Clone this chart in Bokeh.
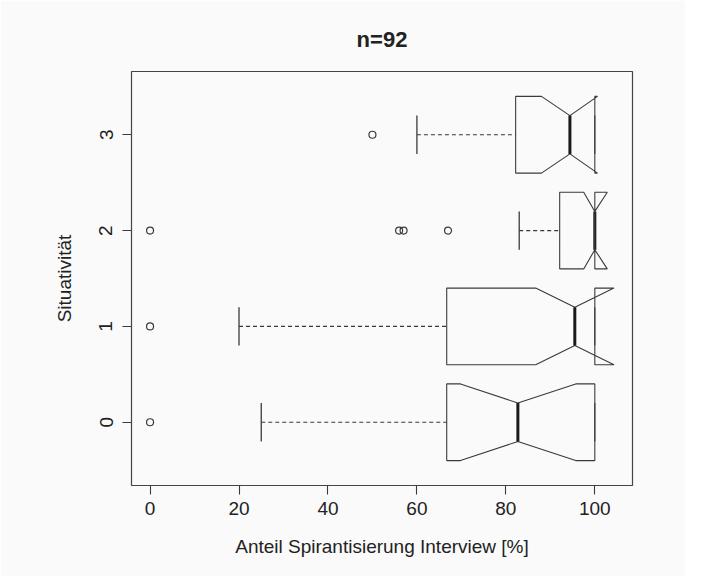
from bokeh.plotting import figure
from bokeh.models import Range1d, FixedTicker
from bokeh.embed import file_html
from bokeh.resources import INLINE

# ---- data ----
groups = [0, 1, 2, 3]
q1 = [66.7, 66.7, 92.1, 82.2]
median = [82.7, 95.5, 100.0, 94.4]
q3 = [100.0, 100.0, 100.0, 100.0]
whisker_lo = [25.0, 20.0, 83.0, 60.0]
whisker_hi = [100.0, 100.0, 100.0, 100.0]
notch_lo = [69.8, 86.7, 97.5, 88.0]
notch_hi = [95.7, 104.3, 102.8, 100.6]
outlier_group = [0, 1, 2, 2, 2, 2, 3]
outlier_value = [0.0, 0.0, 0.0, 56.0, 57.0, 67.0, 50.0]
x_ticks = [0, 20, 40, 60, 80, 100]
y_ticks = [0, 1, 2, 3]
title_text = "n=92"
x_label = "Anteil Spirantisierung Interview [%]"
y_label = "Situativität"

# ---- styles ----
FONT = "Liberation Sans"
TXT = "#222222"
LINE = "#3a3a3a"
BG = "#fafafa"
half = 0.4          # half box width
nfrac = 0.5         # notch fraction
staple = 0.2        # staple half length

allvals = q1 + median + q3 + whisker_lo + whisker_hi + notch_lo + notch_hi + outlier_value
vmin, vmax = min(allvals), max(allvals)
ext = 0.04 * (vmax - vmin)
ylo, yhi = groups[0] - 0.5, groups[-1] + 0.5
yext = 0.04 * (yhi - ylo)

p = figure(width=685, height=576,
           x_range=Range1d(vmin - ext, vmax + ext),
           y_range=Range1d(ylo - yext, yhi + yext),
           output_backend="svg", toolbar_location=None,
           min_border_left=131, min_border_right=53,
           min_border_top=71, min_border_bottom=91)

p.title.text = title_text
p.title.align = "center"
p.title.text_font = FONT
p.title.text_font_size = "22px"
p.title.text_font_style = "bold"
p.title.text_color = TXT
p.title.standoff = 40

p.background_fill_color = BG
p.border_fill_color = BG
p.outline_line_color = "#444444"
p.outline_line_width = 1.2
p.xgrid.visible = False
p.ygrid.visible = False

# notched boxes as polygons (R bxp style)
xs, ys = [], []
for g, a, cl, m, cu, b in zip(groups, q1, notch_lo, median, notch_hi, q3):
    xs.append([a, a, cl, m, cu, b, b, cu, m, cl])
    ys.append([g - half, g + half, g + half, g + nfrac * half, g + half,
               g + half, g - half, g - half, g - nfrac * half, g - half])
p.patches(xs, ys, fill_color=None, line_color=LINE, line_width=1.1)

# medians
p.segment(x0=median, y0=[g - nfrac * half for g in groups],
          x1=median, y1=[g + nfrac * half for g in groups],
          line_color="#1a1a1a", line_width=3)

# whiskers
p.segment(x0=whisker_lo, y0=groups, x1=q1, y1=groups,
          line_color=LINE, line_width=1.1, line_dash="4 3")
p.segment(x0=q3, y0=groups, x1=whisker_hi, y1=groups,
          line_color=LINE, line_width=1.1, line_dash="4 3")
# staples
p.segment(x0=whisker_lo, y0=[g - staple for g in groups],
          x1=whisker_lo, y1=[g + staple for g in groups],
          line_color=LINE, line_width=1.3)
p.segment(x0=whisker_hi, y0=[g - staple for g in groups],
          x1=whisker_hi, y1=[g + staple for g in groups],
          line_color=LINE, line_width=1.1)

# outliers
p.scatter(x=outlier_value, y=outlier_group, marker="circle", size=7,
          fill_color=None, line_color=LINE, line_width=1.2)

# axes
for ax in (p.xaxis[0], p.yaxis[0]):
    ax.axis_line_color = None
    ax.major_tick_line_color = LINE
    ax.major_tick_line_width = 1.1
    ax.major_tick_out = 9
    ax.major_tick_in = 0
    ax.minor_tick_line_color = None
    ax.major_label_text_font = FONT
    ax.major_label_text_font_size = "19px"
    ax.major_label_text_color = TXT
    ax.axis_label_text_font = FONT
    ax.axis_label_text_font_size = "19px"
    ax.axis_label_text_font_style = "normal"
    ax.axis_label_text_color = TXT

p.xaxis.ticker = FixedTicker(ticks=x_ticks)
p.yaxis.ticker = FixedTicker(ticks=y_ticks)
p.xaxis.axis_label = x_label
p.yaxis.axis_label = y_label
p.xaxis.major_label_standoff = 7
p.xaxis.axis_label_standoff = 18
p.yaxis.major_label_orientation = "vertical"
p.yaxis.major_label_standoff = 10
p.yaxis.axis_label_standoff = 22

open("out.html", "w").write(file_html(p, INLINE))
